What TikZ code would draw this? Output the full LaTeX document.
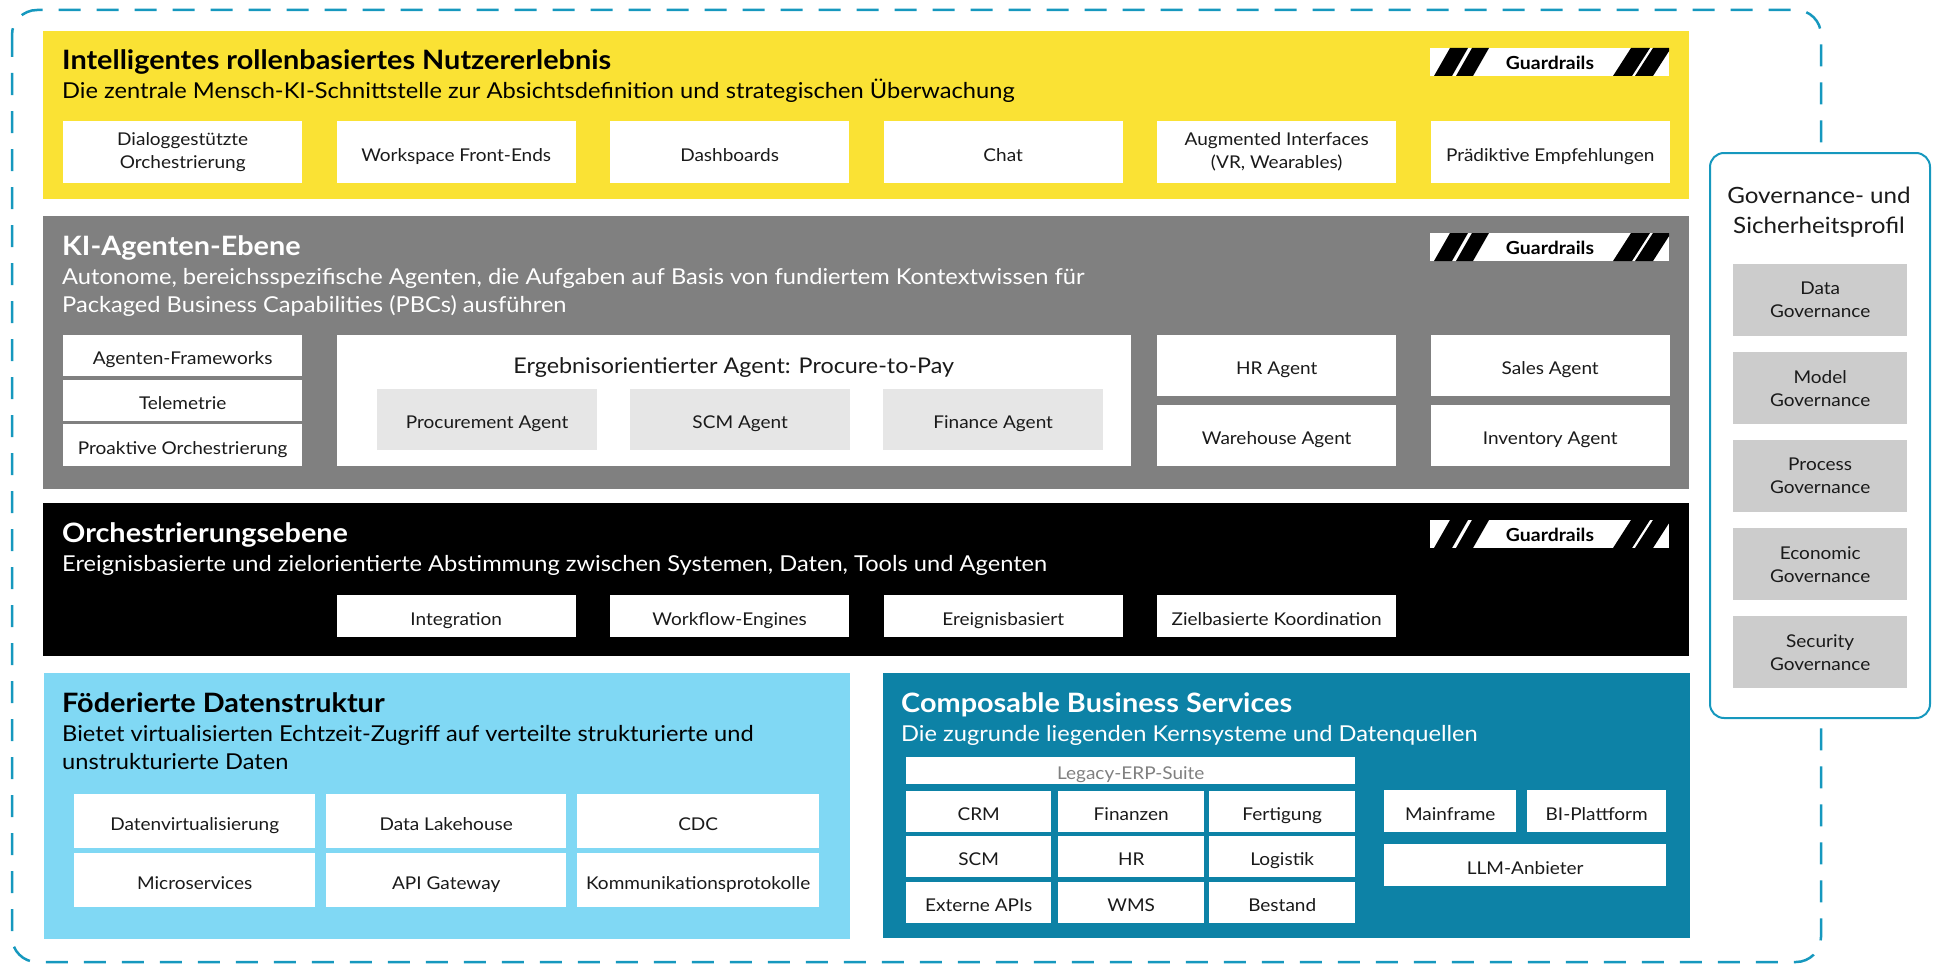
\documentclass[tikz,border=0pt]{standalone}
\usepackage{fontspec}
\setmainfont[FakeStretch=1.08]{Lato}
\definecolor{uxyellow}{RGB}{250,226,52}
\definecolor{agentgray}{RGB}{128,128,128}
\definecolor{datablue}{RGB}{128,216,244}
\definecolor{serviceteal}{RGB}{13,130,166}
\definecolor{frameteal}{RGB}{22,152,190}
\definecolor{tilegray}{RGB}{230,230,230}
\definecolor{govgray}{RGB}{204,204,204}
\definecolor{inktext}{RGB}{26,26,26}

\begin{document}
\begin{tikzpicture}[x=1pt,y=-1pt,
  layer/.style={inner sep=0pt,anchor=north west},
  tilebase/.style={fill=white,inner sep=0pt,anchor=north west,align=center,
    text=inktext,font=\fontsize{17.6}{23}\selectfont},
  tiletwo/.style={tilebase,execute at begin node={\rule{0pt}{20pt}}},
  tile/.style={tilebase,text height=18pt,text depth=0pt},
  title/.style={anchor=base west,inner sep=0pt,font=\fontsize{26.7}{30}\bfseries\selectfont},
  subtitle/.style={anchor=base west,inner sep=0pt,font=\fontsize{21.9}{28}\selectfont},
  pics/guardrails/.style={code={
    \node[fill=white,inner sep=0pt,anchor=north west,minimum width=239pt,minimum height=28pt] (-badge) at (0,0) {};
    \begin{scope}
    \clip (0,0) rectangle (239,28);
    \fill (4,28) -- (22,28) -- (38,0) -- (20,0) -- cycle;
    \fill (26,28) -- (43,28) -- (59,0) -- (42,0) -- cycle;
    \fill (183,28) -- (202,28) -- (220,0) -- (201,0) -- cycle;
    \fill (205,28) -- (223,28) -- (241,0) -- (223,0) -- cycle;
    \end{scope}
    \node[inner sep=0pt,font=\fontsize{18}{20}\bfseries\selectfont] (-label) at (120,14.5) {Guardrails};
  }}]
\useasboundingbox (0,0) rectangle (1939,966);

% outer frame
\draw[frameteal,line width=2.5pt,rounded corners=25pt,dash pattern=on 22pt off 16pt] (12,10) rectangle (1821,962);

% user experience layer
\node[layer,fill=uxyellow,minimum width=1646pt,minimum height=168pt] (uxlayer) at (43,31) {};
\node[title] (uxtitle) at (62,70) {Intelligentes rollenbasiertes Nutzererlebnis};
\node[subtitle] (uxsub) at (62,99) {Die zentrale Mensch-KI-Schnittstelle zur Absichtsdefinition und strategischen Überwachung};
\pic (uxguard) at (1430,48) {guardrails};
\node[tiletwo,minimum width=239pt,minimum height=62pt] (uxdialog) at (63,121) {Dialoggestützte\\Orchestrierung};
\node[tile,minimum width=239pt,minimum height=62pt] (uxworkspace) at (336.5,121) {Workspace Front-Ends};
\node[tile,minimum width=239pt,minimum height=62pt] (uxdash) at (610,121) {Dashboards};
\node[tile,minimum width=239pt,minimum height=62pt] (uxchat) at (883.5,121) {Chat};
\node[tiletwo,minimum width=239pt,minimum height=62pt] (uxaugmented) at (1157,121) {Augmented Interfaces\\(VR, Wearables)};
\node[tile,minimum width=239pt,minimum height=62pt] (uxpredictive) at (1430.5,121) {Prädiktive Empfehlungen};

% agent layer
\node[layer,fill=agentgray,minimum width=1646pt,minimum height=273pt] (agentlayer) at (43,216) {};
\node[title,text=white] (agenttitle) at (62,255) {KI-Agenten-Ebene};
\node[subtitle,text=white] (agentsub) at (62,284) {Autonome, bereichsspezifische Agenten, die Aufgaben auf Basis von fundiertem Kontextwissen für};
\node[subtitle,text=white] (agentsubb) at (62,312) {Packaged Business Capabilities (PBCs) ausführen};
\pic (agentguard) at (1430,233) {guardrails};
\node[tile,minimum width=239pt,minimum height=41pt] (frameworks) at (63,335) {Agenten-Frameworks};
\node[tile,minimum width=239pt,minimum height=41pt] (telemetry) at (63,380) {Telemetrie};
\node[tile,minimum width=239pt,minimum height=42pt] (proactive) at (63,424) {Proaktive Orchestrierung};
\node[tile,minimum width=794.5pt,minimum height=131pt] (p2p) at (336.5,335) {};
\node[inner sep=0pt,text=inktext,font=\fontsize{21.6}{24}\selectfont] (p2ptitle) at (733.75,367.5) {Ergebnisorientierter Agent: Procure-to-Pay};
\node[tile,fill=tilegray,minimum width=220pt,minimum height=61pt] (procurement) at (377,389) {Procurement Agent};
\node[tile,fill=tilegray,minimum width=220pt,minimum height=61pt] (scmagent) at (630,389) {SCM Agent};
\node[tile,fill=tilegray,minimum width=220pt,minimum height=61pt] (financeagent) at (883,389) {Finance Agent};
\node[tile,minimum width=239pt,minimum height=61pt] (hragent) at (1157,335) {HR Agent};
\node[tile,minimum width=239pt,minimum height=61pt] (warehouse) at (1157,405) {Warehouse Agent};
\node[tile,minimum width=239pt,minimum height=61pt] (salesagent) at (1430.5,335) {Sales Agent};
\node[tile,minimum width=239pt,minimum height=61pt] (inventory) at (1430.5,405) {Inventory Agent};

% orchestration layer
\node[layer,fill=black,minimum width=1646pt,minimum height=153pt] (orchlayer) at (43,503) {};
\node[title,text=white] (orchtitle) at (62,542) {Orchestrierungsebene};
\node[subtitle,text=white] (orchsub) at (62,571) {Ereignisbasierte und zielorientierte Abstimmung zwischen Systemen, Daten, Tools und Agenten};
\pic (orchguard) at (1430,520) {guardrails};
\node[tile,minimum width=239pt,minimum height=42pt] (integration) at (336.5,595) {Integration};
\node[tile,minimum width=239pt,minimum height=42pt] (workflow) at (610,595) {Workflow-Engines};
\node[tile,minimum width=239pt,minimum height=42pt] (eventbased) at (883.5,595) {Ereignisbasiert};
\node[tile,minimum width=239pt,minimum height=42pt] (goalbased) at (1157,595) {Zielbasierte Koordination};

% data fabric
\node[layer,fill=datablue,minimum width=806pt,minimum height=266pt] (datalayer) at (44,673) {};
\node[title] (datatitle) at (62,712) {Föderierte Datenstruktur};
\node[subtitle] (datasub) at (62,741) {Bietet virtualisierten Echtzeit-Zugriff auf verteilte strukturierte und};
\node[subtitle] (datasubb) at (62,769) {unstrukturierte Daten};
\node[tile,minimum width=241pt,minimum height=54pt] (virtualization) at (74,794) {Datenvirtualisierung};
\node[tile,minimum width=240pt,minimum height=54pt] (lakehouse) at (326,794) {Data Lakehouse};
\node[tile,minimum width=242pt,minimum height=54pt] (cdc) at (577,794) {CDC};
\node[tile,minimum width=241pt,minimum height=54pt] (microservices) at (74,853) {Microservices};
\node[tile,minimum width=240pt,minimum height=54pt] (apigateway) at (326,853) {API Gateway};
\node[tile,minimum width=242pt,minimum height=54pt] (protocols) at (577,853) {Kommunikationsprotokolle};

% business services
\node[layer,fill=serviceteal,minimum width=807pt,minimum height=265pt] (servicelayer) at (883,673) {};
\node[title,text=white] (servicetitle) at (901,712) {Composable Business Services};
\node[subtitle,text=white] (servicesub) at (901,741) {Die zugrunde liegenden Kernsysteme und Datenquellen};
\node[tile,text=agentgray,minimum width=449pt,minimum height=27pt] (legacy) at (906,757) {Legacy-ERP-Suite};
\node[tile,minimum width=145pt,minimum height=41pt] (crm) at (906,791) {CRM};
\node[tile,minimum width=146pt,minimum height=41pt] (finance) at (1058,791) {Finanzen};
\node[tile,minimum width=146pt,minimum height=41pt] (manufacturing) at (1209,791) {Fertigung};
\node[tile,minimum width=145pt,minimum height=41pt] (scm) at (906,836) {SCM};
\node[tile,minimum width=146pt,minimum height=41pt] (hr) at (1058,836) {HR};
\node[tile,minimum width=146pt,minimum height=41pt] (logistics) at (1209,836) {Logistik};
\node[tile,minimum width=145pt,minimum height=41pt] (externalapis) at (906,882) {Externe APIs};
\node[tile,minimum width=146pt,minimum height=41pt] (wms) at (1058,882) {WMS};
\node[tile,minimum width=146pt,minimum height=41pt] (stock) at (1209,882) {Bestand};
\node[tile,minimum width=132pt,minimum height=42pt] (mainframe) at (1384,790) {Mainframe};
\node[tile,minimum width=139pt,minimum height=42pt] (biplatform) at (1527,790) {BI-Plattform};
\node[tile,minimum width=282pt,minimum height=42pt] (llm) at (1384,844) {LLM-Anbieter};

% governance profile
\node[layer,fill=white,draw=frameteal,line width=2pt,rounded corners=14pt,minimum width=220pt,minimum height=565pt] (govpanel) at (1709,152) {};
\node[inner sep=0pt,align=center,text=inktext,font=\fontsize{22.4}{30}\selectfont] (govtitle) at (1819,212) {Governance- und\\Sicherheitsprofil};
\node[tiletwo,fill=govgray,minimum width=174pt,minimum height=72pt] (datagov) at (1733,264) {Data\\Governance};
\node[tiletwo,fill=govgray,minimum width=174pt,minimum height=72pt] (modelgov) at (1733,352) {Model\\Governance};
\node[tiletwo,fill=govgray,minimum width=174pt,minimum height=72pt] (processgov) at (1733,440) {Process\\Governance};
\node[tiletwo,fill=govgray,minimum width=174pt,minimum height=72pt] (economicgov) at (1733,528) {Economic\\Governance};
\node[tiletwo,fill=govgray,minimum width=174pt,minimum height=72pt] (securitygov) at (1733,616) {Security\\Governance};
\end{tikzpicture}
\end{document}
